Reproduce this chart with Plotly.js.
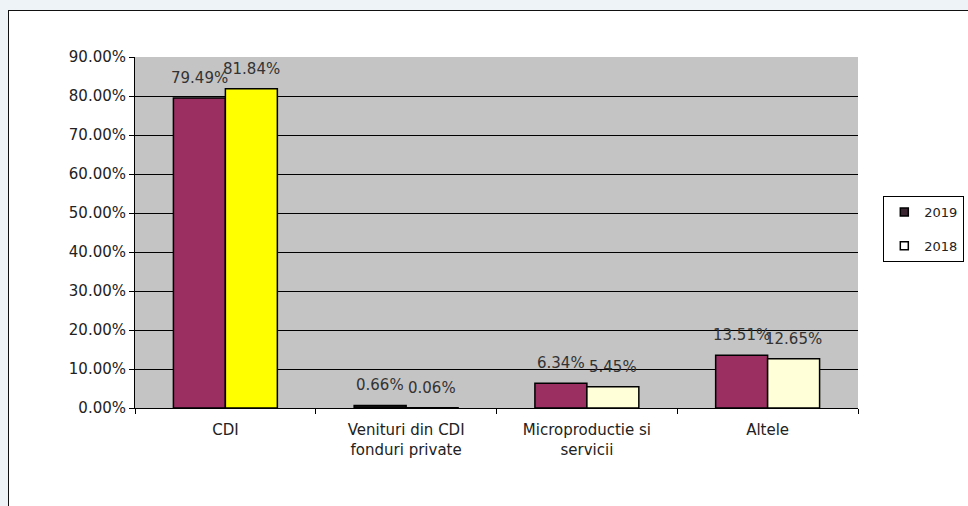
<!DOCTYPE html>
<html>
<head>
<meta charset="utf-8">
<script src="https://cdn.plot.ly/plotly-3.0.1.min.js"></script>
<style>
html,body{margin:0;padding:0;background:#eef3f8;width:968px;height:506px;overflow:hidden;}
#frame{position:absolute;left:8px;top:10px;width:975px;height:510px;border:1.5px solid #111;background:#fff;}
#chart{position:absolute;left:0;top:0;width:968px;height:506px;}
</style>
</head>
<body>
<div id="frame"></div>
<div id="chart"></div>
<script>
const categories = ['CDI', 'Venituri din CDI<br>fonduri private', 'Microproductie si<br>servicii', 'Altele'];
const values2019 = [79.49, 0.66, 6.34, 13.51];
const values2018 = [81.84, 0.06, 5.45, 12.65];
const colors2019 = ['#9B2F62', '#111111', '#9B2F62', '#9B2F62'];
const colors2018 = ['#FFFF00', '#111111', '#FFFFD8', '#FFFFD8'];
const yTicks = [0, 10, 20, 30, 40, 50, 60, 70, 80, 90];

const FONT = 'DejaVu Sans, Arial, sans-serif';
const labelFont = {family: FONT, size: 15, color: '#333'};
function barTrace(name, vals, cols) {
  return {
    type: 'bar', name: name, x: categories, y: vals,
    marker: {color: cols, line: {color: '#000', width: 1.5}},
    showlegend: false, hoverinfo: 'skip'
  };
}
const traces = [
  barTrace('2019', values2019, colors2019),
  barTrace('2018', values2018, colors2018),
  {type: 'scatter', mode: 'markers', name: '2019', legendgroup: 'a', x: [null], y: [null],
   marker: {symbol: 'square', size: 8, color: '#3a2530', line: {color: '#000', width: 1.5}}},
  {type: 'scatter', mode: 'markers', name: '2018', legendgroup: 'b', x: [null], y: [null],
   marker: {symbol: 'square', size: 8, color: '#ffffff', line: {color: '#000', width: 1.5}}}
];
const annotations = [];
[[values2019, -26], [values2018, 26]].forEach(([vals, dx]) => {
  vals.forEach((v, i) => {
    annotations.push({
      x: categories[i], y: v, xref: 'x', yref: 'y', xshift: dx, yshift: 20,
      text: v.toFixed(2) + '%', showarrow: false, xanchor: 'center', yanchor: 'middle',
      font: labelFont
    });
  });
});
const layout = {
  width: 968, height: 506,
  margin: {l: 135, r: 110, t: 57, b: 98, autoexpand: false},
  paper_bgcolor: 'rgba(0,0,0,0)', plot_bgcolor: '#C4C4C4',
  barmode: 'group', bargap: 0.425, bargroupgap: 0,
  font: {family: FONT, size: 15, color: '#222'},
  annotations: annotations,
  xaxis: {
    type: 'category', showline: true, linecolor: '#000', linewidth: 1,
    ticks: 'outside', tickson: 'boundaries', ticklen: 5, tickcolor: '#000',
    ticklabelstandoff: 8,
    showgrid: false, tickfont: {family: FONT, size: 15, color: '#222'}
  },
  yaxis: {
    range: [0, 90], tickvals: yTicks, ticktext: yTicks.map(v => v.toFixed(2) + '%'),
    showline: true, linecolor: '#000', linewidth: 1, ticks: 'outside', ticklen: 5,
    tickcolor: '#000', showgrid: true, gridcolor: '#000', gridwidth: 1, zeroline: false,
    tickfont: {family: FONT, size: 15, color: '#222'}
  },
  legend: {
    x: 1.035, y: 0.604, xanchor: 'left', yanchor: 'top',
    bgcolor: '#fff', bordercolor: '#000', borderwidth: 1,
    font: {family: FONT, size: 13, color: '#222'},
    itemwidth: 30, tracegroupgap: 14, traceorder: 'grouped'
  }
};
Plotly.newPlot('chart', traces, layout, {staticPlot: true});
</script>
</body>
</html>
